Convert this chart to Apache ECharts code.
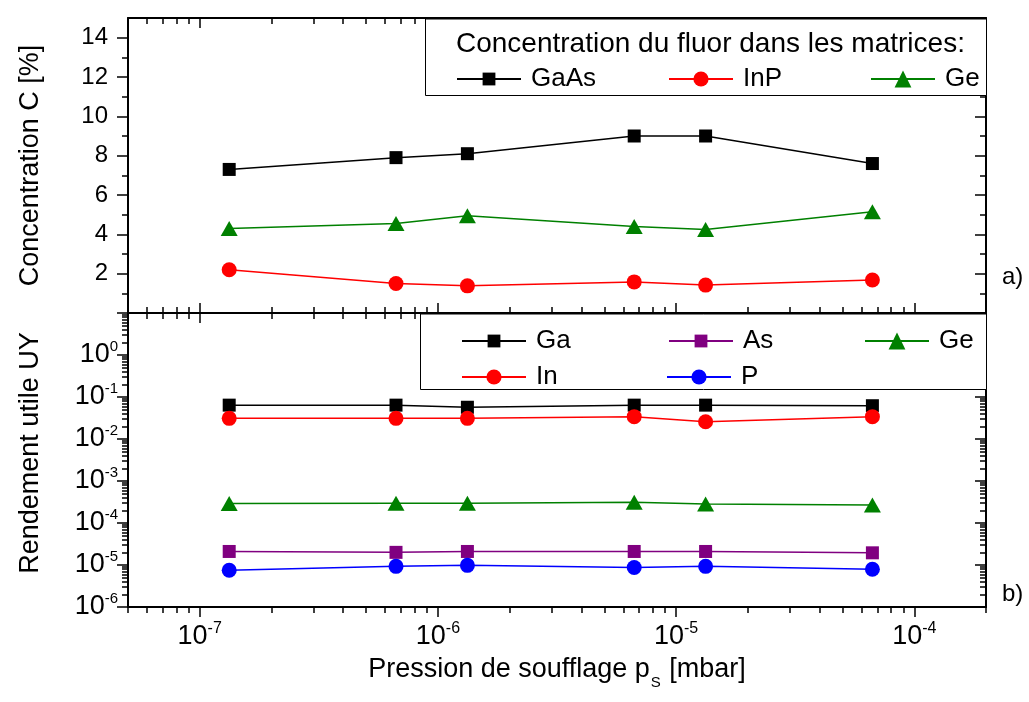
<!DOCTYPE html>
<html><head><meta charset="utf-8">
<script src="https://cdn.jsdelivr.net/npm/echarts@6/dist/echarts.min.js"></script>
<style>html,body{margin:0;padding:0;background:#fff}#c{width:1029px;height:702px}</style>
</head><body><div id="c"></div>
<script>
// ---- data ----
const pressures = [1.33e-7, 6.67e-7, 1.33e-6, 6.67e-6, 1.33e-5, 6.67e-5];
const concGaAs = [7.3, 7.9, 8.1, 9.0, 9.0, 7.6];
const concInP  = [2.2, 1.5, 1.38, 1.58, 1.42, 1.68];
const concGe   = [4.3, 4.55, 4.95, 4.4, 4.25, 5.15];
const uyGa = [0.064, 0.064, 0.057, 0.064, 0.064, 0.062];
const uyAs = [2.1e-5, 2.0e-5, 2.1e-5, 2.1e-5, 2.1e-5, 1.95e-5];
const uyGe = [2.9e-4, 2.95e-4, 2.95e-4, 3.1e-4, 2.85e-4, 2.7e-4];
const uyIn = [0.031, 0.031, 0.031, 0.034, 0.0257, 0.034];
const uyP  = [7.5e-6, 9.3e-6, 9.8e-6, 8.7e-6, 9.3e-6, 7.9e-6];
// ---- axes / ticks ----
const xRange = [5e-8, 2e-4];
const xMajorExp = [-7, -6, -5, -4];
const xDecades = [-8, -7, -6, -5, -4];
const yLogRange = [1e-6, 1e1];
const yDecades = [-6, -5, -4, -3, -2, -1, 0];
const minorMult = [2, 3, 4, 5, 6, 7, 8, 9];
const yLinRange = [0, 15];
const yLinMajor = [0, 2, 4, 6, 8, 10, 12, 14];
const yLinLabels = [2, 4, 6, 8, 10, 12, 14];
const yLinMinor = [1, 3, 5, 7, 9, 11, 13];

const FONT = '"Liberation Sans", Arial, sans-serif';
const L10 = Math.log10;
function minorLog(decades, lo, hi) {
  const out = [];
  decades.forEach(d => minorMult.forEach(m => { const v = L10(m) + d; if (v >= lo - 1e-9 && v <= hi + 1e-9) out.push(v); }));
  return out;
}
const xLo = L10(xRange[0]), xHi = L10(xRange[1]);
const yLo = L10(yLogRange[0]), yHi = L10(yLogRange[1]);
const xMinor = minorLog(xDecades, xLo, xHi);
const yMinor = minorLog(yDecades, yLo, yHi);

const AXL = {color: '#000', width: 2};
const TKL = {color: '#000', width: 1.5};

function tickAxis(grid, pos, lo, hi, vals, len, inside) {
  return {type: 'value', gridIndex: grid, position: pos, min: lo, max: hi,
    axisLine: {show: false, onZero: false},
    axisTick: {show: true, inside: inside, length: len, customValues: vals, lineStyle: TKL},
    axisLabel: {show: false}, splitLine: {show: false}, minorTick: {show: false}, silent: true};
}
function frameLog(grid, pos, lo, hi) {
  return {type: 'log', logBase: 10, gridIndex: grid, position: pos, min: lo, max: hi,
    axisLine: {show: true, onZero: false, lineStyle: AXL}, axisTick: {show: false},
    axisLabel: {show: false}, splitLine: {show: false}, minorTick: {show: false}};
}
function powLabel(v, skipAbove) {
  const e = L10(v), r = Math.round(e);
  if (Math.abs(e - r) > 1e-6) return '';
  if (skipAbove !== undefined && r > skipAbove) return '';
  return '{b|10}{s|' + r + '}';
}

const xLabelAxis = frameLog(1, 'bottom', xRange[0], xRange[1]);
xLabelAxis.axisLabel = {show: true, margin: 16, formatter: v => powLabel(v),
  fontSize: 27, fontFamily: FONT, color: '#000', hideOverlap: false,
  rich: {b: {fontSize: 27, lineHeight: 27, fontFamily: FONT, color: '#000', verticalAlign: 'bottom'},
         s: {fontSize: 16, lineHeight: 16, fontFamily: FONT, color: '#000', verticalAlign: 'bottom', padding: [0, 0, 13, 0]}}};
xLabelAxis.name = '{a|Pression de soufflage p}{s|S}{a| [mbar]}';
xLabelAxis.nameLocation = 'middle';
xLabelAxis.nameGap = 49;
xLabelAxis.nameTextStyle = {fontSize: 27, fontFamily: FONT, color: '#000', rich: {
  a: {fontSize: 27, lineHeight: 27, fontFamily: FONT, color: '#000', verticalAlign: 'top'},
  s: {fontSize: 15, lineHeight: 15, fontFamily: FONT, color: '#000', verticalAlign: 'top', padding: [19, 1, 0, 1]}}};

const xAxes = [
  frameLog(0, 'bottom', xRange[0], xRange[1]),
  frameLog(0, 'top', xRange[0], xRange[1]),
  tickAxis(0, 'bottom', xLo, xHi, xMajorExp, 10, true),
  tickAxis(0, 'bottom', xLo, xHi, xMinor, 6, true),
  tickAxis(0, 'top', xLo, xHi, xMajorExp, 10, true),
  tickAxis(0, 'top', xLo, xHi, xMinor, 6, true),
  xLabelAxis,
  frameLog(1, 'top', xRange[0], xRange[1]),
  tickAxis(1, 'bottom', xLo, xHi, xMajorExp, 10, false),
  tickAxis(1, 'bottom', xLo, xHi, xMinor, 6, false),
  tickAxis(1, 'top', xLo, xHi, xMajorExp, 10, true),
  tickAxis(1, 'top', xLo, xHi, xMinor, 6, true)
];

function linAxis(pos, inside, withLabels) {
  const a = {type: 'value', gridIndex: 0, position: pos, min: yLinRange[0], max: yLinRange[1],
    axisLine: {show: true, onZero: false, lineStyle: AXL},
    axisTick: {show: true, inside: inside, length: 11, customValues: yLinMajor, lineStyle: TKL},
    axisLabel: {show: false}, splitLine: {show: false}, minorTick: {show: false}};
  if (withLabels) {
    a.axisLabel = {show: true, customValues: yLinLabels, margin: 20, fontSize: 24, fontFamily: FONT, color: '#000'};
    a.name = 'Concentration C [%]';
    a.nameLocation = 'middle';
    a.nameGap = 84;
    a.nameTextStyle = {fontSize: 27, fontFamily: FONT, color: '#000'};
  }
  return a;
}
function logYAxis(pos, inside, withLabels) {
  const a = {type: 'log', logBase: 10, gridIndex: 1, position: pos, min: yLogRange[0], max: yLogRange[1],
    axisLine: {show: true, onZero: false, lineStyle: AXL},
    axisTick: {show: true, inside: inside, length: 11, lineStyle: TKL},
    axisLabel: {show: false}, splitLine: {show: false}, minorTick: {show: false}};
  if (withLabels) {
    a.axisLabel = {show: true, margin: 10, formatter: v => powLabel(v, 0), hideOverlap: false,
      fontSize: 27, fontFamily: FONT, color: '#000',
      rich: {b: {fontSize: 27, lineHeight: 27, fontFamily: FONT, color: '#000', verticalAlign: 'bottom'},
             s: {fontSize: 15, lineHeight: 15, fontFamily: FONT, color: '#000', verticalAlign: 'bottom', padding: [0, 0, 14, 0]}}};
    a.name = 'Rendement utile UY';
    a.nameLocation = 'middle';
    a.nameGap = 84;
    a.nameTextStyle = {fontSize: 27, fontFamily: FONT, color: '#000', padding: [0, 0, 0, 14]};
  }
  return a;
}
const yAxes = [
  linAxis('left', false, true),
  linAxis('right', true, false),
  tickAxis(0, 'left', yLinRange[0], yLinRange[1], yLinMinor, 6, false),
  tickAxis(0, 'right', yLinRange[0], yLinRange[1], yLinMinor, 6, true),
  logYAxis('left', false, true),
  logYAxis('right', true, false),
  tickAxis(1, 'left', yLo, yHi, yMinor, 6, false),
  tickAxis(1, 'right', yLo, yHi, yMinor, 6, true)
];

function pairs(ys) { return pressures.map((x, i) => [x, ys[i]]); }
function ser(name, ys, color, symbol, size, xi, yi) {
  return {type: 'line', name: name, data: pairs(ys), xAxisIndex: xi, yAxisIndex: yi,
    symbol: symbol, symbolSize: size, showSymbol: true, color: color,
    lineStyle: {color: color, width: 1.5}, itemStyle: {color: color}, emphasis: {disabled: true}, z: 3};
}
const series = [
  ser('GaAs', concGaAs, '#000000', 'rect', 13, 0, 0),
  ser('InP', concInP, '#ff0000', 'circle', 15, 0, 0),
  ser('Ge', concGe, '#008000', 'triangle', [17, 15], 0, 0),
  ser('Ga', uyGa, '#000000', 'rect', 13, 6, 4),
  ser('In', uyIn, '#ff0000', 'circle', 15, 6, 4),
  ser('Ge', uyGe, '#008000', 'triangle', [17, 15], 6, 4),
  ser('As', uyAs, '#800080', 'rect', 13, 6, 4),
  ser('P', uyP, '#0000ff', 'circle', 15, 6, 4)
];

function legendItem(name, left, cy, iconH) {
  return {show: true, data: [name], left: left, top: cy - 13, orient: 'horizontal', padding: 0,
    itemWidth: 64, itemHeight: iconH, itemGap: 0, selectedMode: false, z: 20,
    textStyle: {fontSize: 26, lineHeight: 26, fontFamily: FONT, color: '#000', padding: [0, 0, 0, 5]}};
}
const legends = [
  legendItem('GaAs', 456, 79, 16),
  legendItem('InP', 668, 79, 19),
  legendItem('Ge', 870, 79, 21),
  legendItem('Ga', 461, 341, 16),
  legendItem('As', 668, 341, 16),
  legendItem('Ge', 864, 341, 21),
  legendItem('In', 461, 377, 19),
  legendItem('P', 666, 377, 19)
];

const chart = echarts.init(document.getElementById('c'), null, {renderer: 'canvas'});
chart.setOption({
  animation: false,
  backgroundColor: '#fff',
  grid: [
    {left: 128, right: 43, top: 18, height: 295, containLabel: false, outerBoundsMode: 'none'},
    {left: 128, right: 43, top: 313, height: 294, containLabel: false, outerBoundsMode: 'none'}
  ],
  xAxis: xAxes,
  yAxis: yAxes,
  legend: legends,
  series: series,
  graphic: [
    {type: 'rect', z: 10, shape: {x: 425.5, y: 19, width: 561, height: 76.5},
     style: {fill: '#fff', stroke: '#000', lineWidth: 1}},
    {type: 'rect', z: 10, shape: {x: 420.5, y: 314, width: 566, height: 75.5},
     style: {fill: '#fff', stroke: '#000', lineWidth: 1}},
    {type: 'text', z: 20, left: 456, top: 30,
     style: {text: 'Concentration du fluor dans les matrices:', fontSize: 28, fontFamily: FONT, fill: '#000'}},
    {type: 'text', z: 20, left: 1002, top: 265,
     style: {text: 'a)', fontSize: 24, fontFamily: FONT, fill: '#000'}},
    {type: 'text', z: 20, left: 1002, top: 582,
     style: {text: 'b)', fontSize: 24, fontFamily: FONT, fill: '#000'}}
  ]
});
</script>
</body></html>
